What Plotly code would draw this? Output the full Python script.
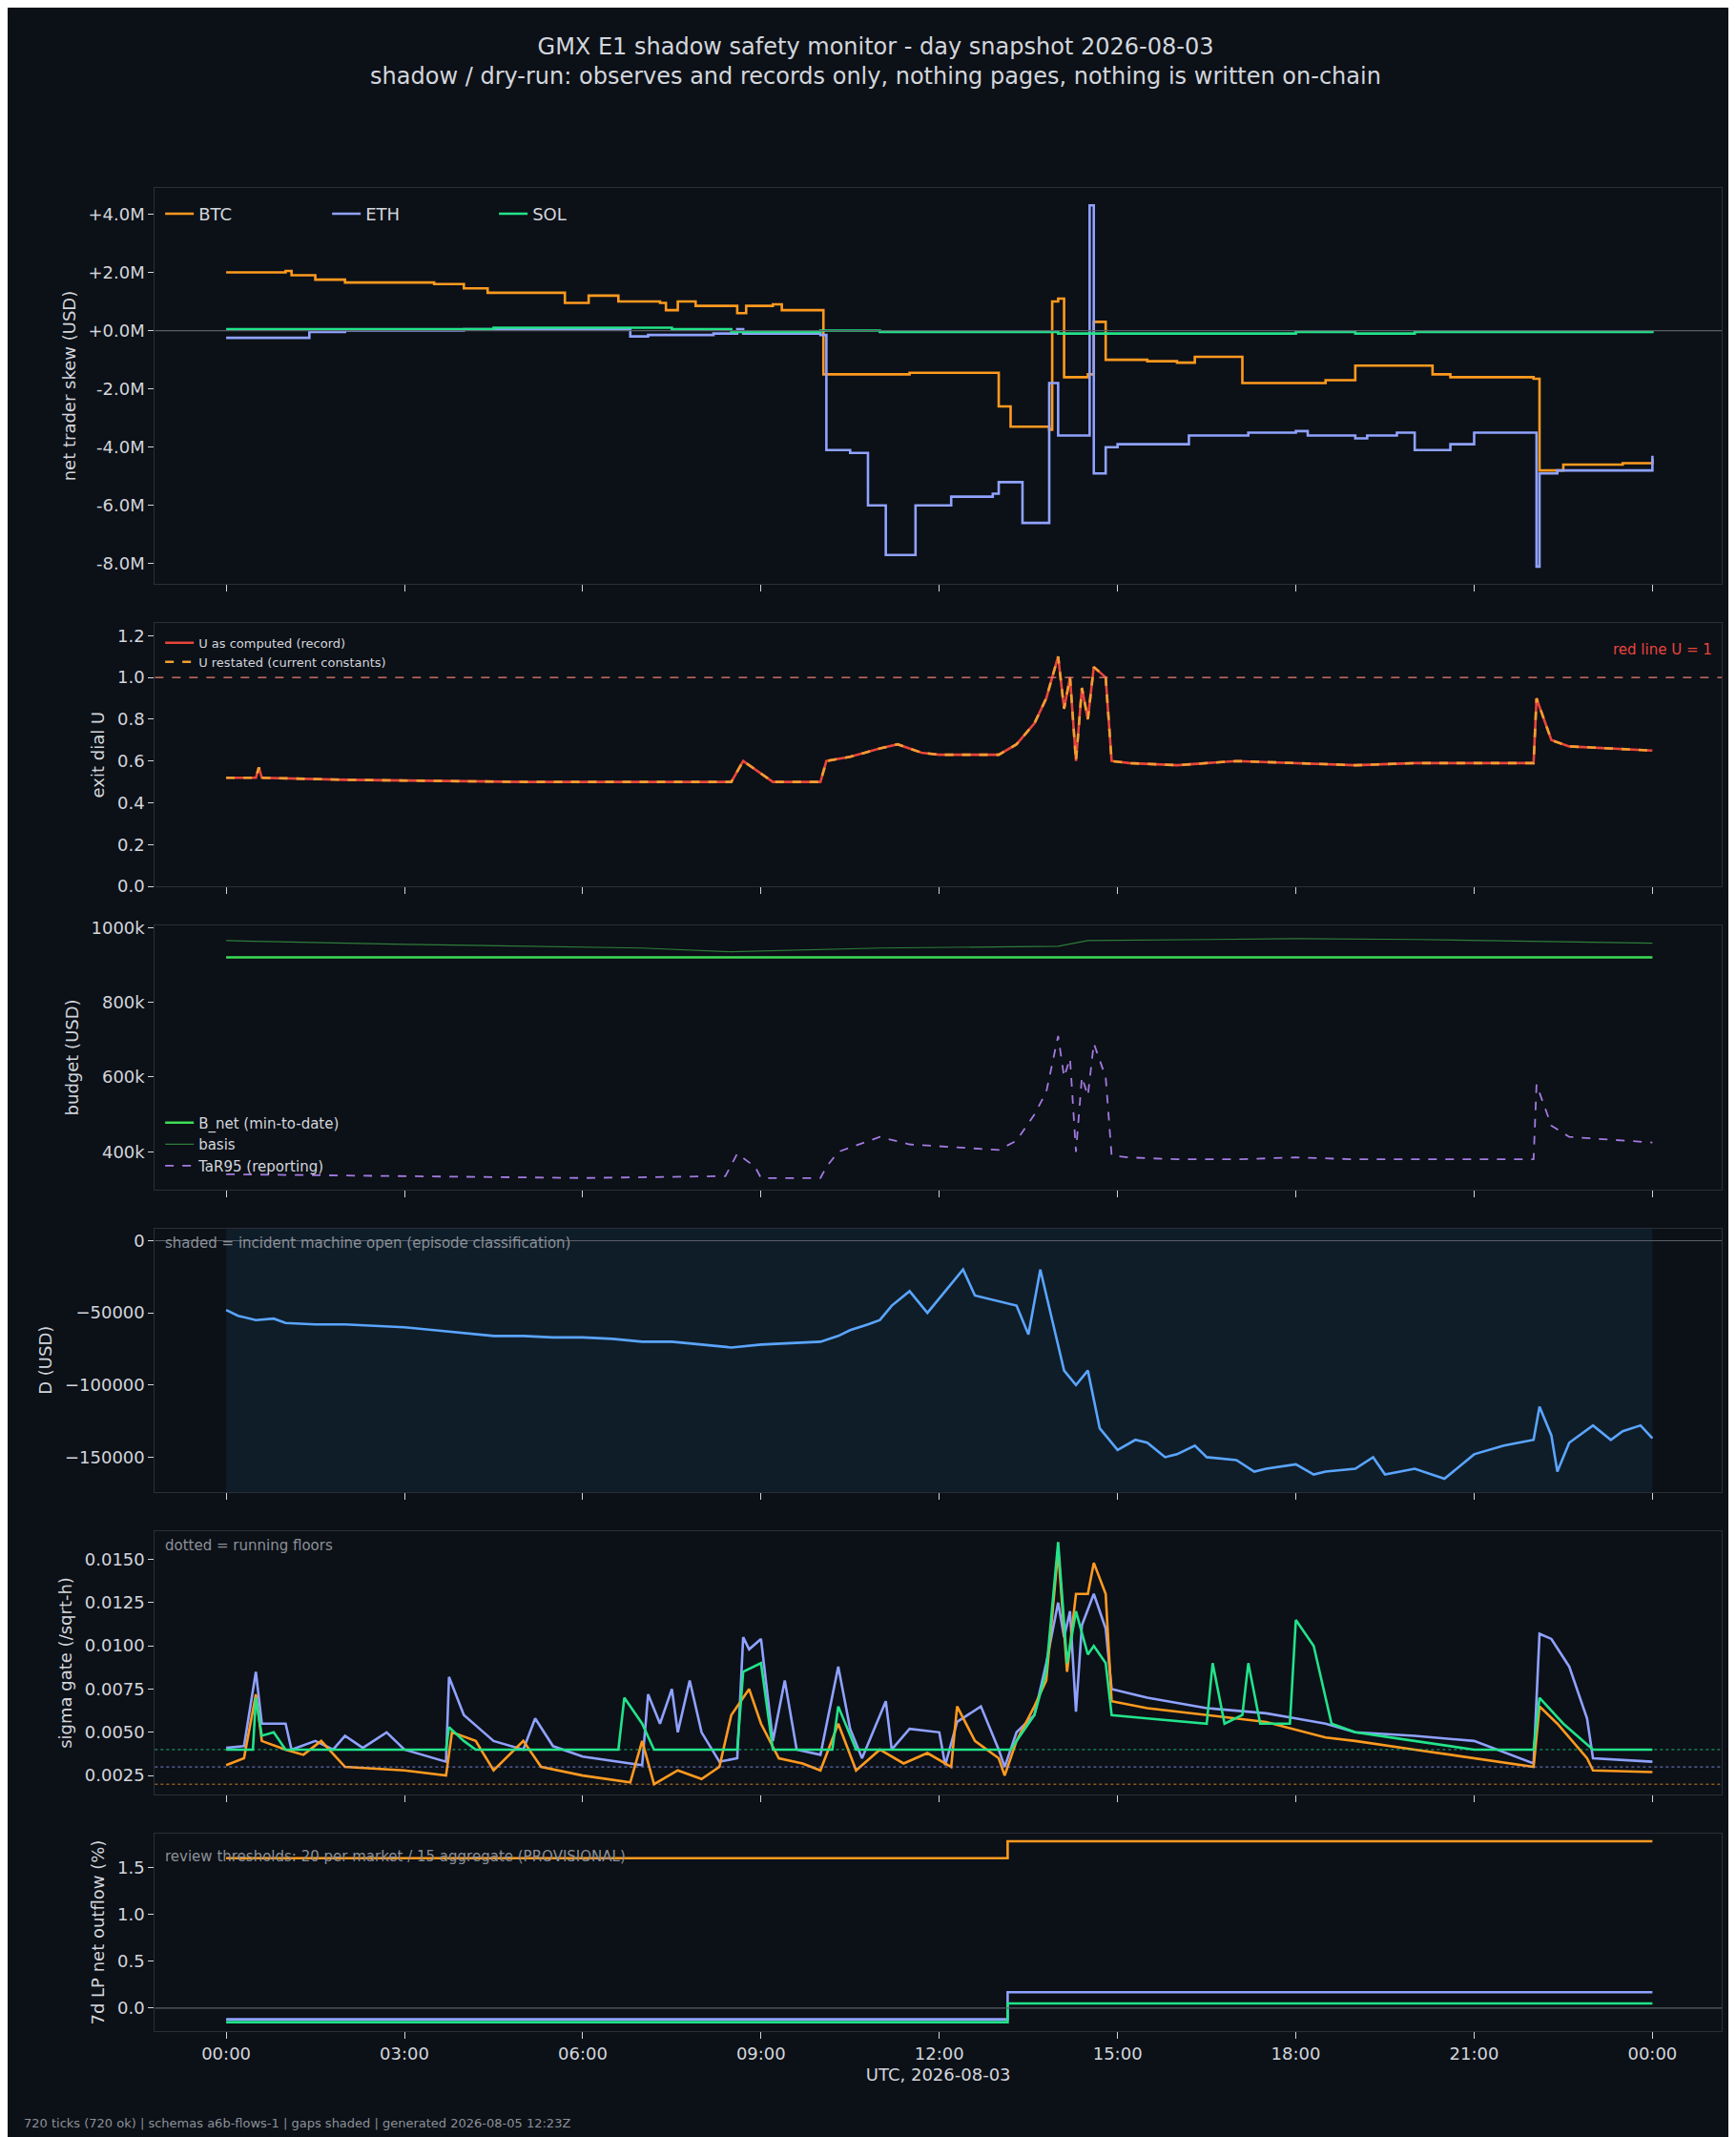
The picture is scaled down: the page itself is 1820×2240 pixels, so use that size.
import pandas as pd
import plotly.graph_objects as go

# ---- data (hours since 2026-08-03 00:00 UTC) ----
btc_skew_h = [0, 1.0, 1.1, 1.5, 2.0, 3.5, 4.0, 4.4, 5.6, 5.7, 6.1, 6.6, 7.3, 7.4, 7.6, 7.9, 8.5, 8.6, 8.75, 9.2, 9.35, 10.0, 10.05, 11.5,
              12.9, 13.0, 13.2, 13.85, 13.9, 14.0, 14.1, 14.5, 14.6, 14.8, 15.5, 16.0, 16.3, 17.0, 17.1, 18.5, 19.0, 20.0, 20.3, 20.6, 22.0, 22.1, 22.5, 23.5, 24.0]
btc_skew = [2.0, 2.05, 1.9, 1.75, 1.65, 1.6, 1.45, 1.3, 1.3, 0.95, 1.2, 1.0, 0.95, 0.7, 1.0, 0.85, 0.85, 0.6, 0.85, 0.9, 0.7, 0.7, -1.5, -1.45,
            -1.45, -2.6, -3.3, -3.4, 1.0, 1.1, -1.6, -1.5, 0.3, -1.0, -1.05, -1.1, -0.9, -0.9, -1.8, -1.7, -1.2, -1.2, -1.5, -1.6, -1.65, -4.8, -4.6, -4.55, -4.4]
eth_skew_h = [0, 1.2, 1.4, 2, 4, 6.6, 6.8, 7.1, 8.2, 8.6, 8.7, 10.0, 10.1, 10.5, 10.8, 11.1, 11.4, 11.6, 12.2, 12.9, 13.0, 13.4, 13.8, 13.85, 14.0,
              14.5, 14.53, 14.6, 14.8, 15.0, 16.0, 16.2, 17.0, 17.2, 18.0, 18.2, 19.0, 19.2, 19.7, 20.0, 20.6, 21.0, 22.0, 22.05, 22.1, 22.4, 23.0, 24.0]
eth_skew = [-0.25, -0.25, -0.05, 0, 0.05, 0.05, -0.2, -0.15, -0.1, 0.05, -0.1, -0.15, -4.1, -4.2, -6.0, -7.7, -7.7, -6.0, -5.7, -5.6, -5.2, -6.6, -6.6, -1.8, -3.6,
            -3.6, 4.3, -4.9, -4.0, -3.9, -3.9, -3.6, -3.6, -3.5, -3.45, -3.6, -3.7, -3.6, -3.5, -4.1, -3.9, -3.5, -3.5, -8.1, -4.9, -4.8, -4.8, -4.3]
sol_skew_h = [0, 2, 4.5, 7.5, 8.3, 8.5, 10, 11, 14, 18, 19, 20, 24]
sol_skew = [0.05, 0.05, 0.1, 0.05, 0.05, -0.05, 0.0, -0.05, -0.1, -0.05, -0.1, -0.05, 0.0]

u_h = [0, 0.5, 0.55, 0.6, 2, 5, 7, 8.5, 8.7, 9.0, 9.2, 10, 10.1, 10.5, 11, 11.3, 11.7, 12, 13, 13.3, 13.6, 13.8, 14.0, 14.1, 14.2, 14.3,
       14.4, 14.5, 14.6, 14.8, 14.9, 15.2, 16, 17, 18, 19, 20, 22.0, 22.05, 22.3, 22.6, 24]
u_val = [0.52, 0.52, 0.57, 0.52, 0.51, 0.5, 0.5, 0.5, 0.6, 0.54, 0.5, 0.5, 0.6, 0.62, 0.66, 0.68, 0.64, 0.63, 0.63, 0.68, 0.78, 0.9, 1.1, 0.85, 1.0, 0.6,
         0.95, 0.8, 1.05, 1.0, 0.6, 0.59, 0.58, 0.6, 0.59, 0.58, 0.59, 0.59, 0.9, 0.7, 0.67, 0.65]

bnet_h = [0, 24]
bnet = [920e3, 920e3]
basis_h = [0, 3, 7, 8.5, 11, 14, 14.5, 18, 20, 24]
basis = [965e3, 955e3, 945e3, 935e3, 945e3, 950e3, 965e3, 970e3, 968e3, 958e3]
tar_h = [0, 6, 8.4, 8.6, 8.9, 9.0, 10, 10.1, 10.3, 11, 11.5, 13, 13.3, 13.6, 13.8, 14.0, 14.1, 14.2, 14.3, 14.4, 14.5, 14.6, 14.8, 14.9,
         15.2, 16, 17, 18, 19, 22.0, 22.05, 22.3, 22.6, 24]
tar = [340e3, 330e3, 335e3, 395e3, 360e3, 330e3, 330e3, 360e3, 400e3, 440e3, 420e3, 405e3, 430e3, 500e3, 560e3, 710e3, 600e3, 650e3, 400e3, 600e3, 550e3, 690e3, 600e3, 390e3,
       385e3, 380e3, 380e3, 385e3, 380e3, 380e3, 580e3, 470e3, 440e3, 425e3]

d_h = [0, 0.2, 0.5, 0.8, 1, 1.5, 2, 2.5, 3, 3.5, 4, 4.5, 5, 5.5, 6, 6.5, 7, 7.5, 8, 8.5, 9, 9.5, 10, 10.3, 10.5, 10.8, 11, 11.2, 11.5, 11.8, 12, 12.2,
       12.4, 12.6, 13, 13.3, 13.5, 13.7, 13.9, 14.1, 14.3, 14.5, 14.7, 15, 15.3, 15.5, 15.8, 16, 16.3, 16.5, 17, 17.3, 17.5, 18, 18.3, 18.5, 19, 19.3,
       19.5, 20, 20.5, 21, 21.5, 22, 22.1, 22.3, 22.4, 22.6, 23, 23.3, 23.5, 23.8, 24]
d_val = [-48e3, -52e3, -55e3, -54e3, -57e3, -58e3, -58e3, -59e3, -60e3, -62e3, -64e3, -66e3, -66e3, -67e3, -67e3, -68e3, -70e3, -70e3, -72e3, -74e3, -72e3, -71e3, -70e3, -66e3, -62e3, -58e3, -55e3, -45e3,
         -35e3, -50e3, -40e3, -30e3, -20e3, -38e3, -42e3, -45e3, -65e3, -20e3, -55e3, -90e3, -100e3, -90e3, -130e3, -145e3, -138e3, -140e3, -150e3, -148e3, -142e3, -150e3,
         -152e3, -160e3, -158e3, -155e3, -162e3, -160e3, -158e3, -150e3, -162e3, -158e3, -165e3, -148e3, -142e3, -138e3, -115e3, -135e3, -160e3, -140e3, -128e3, -138e3, -132e3, -128e3, -137e3]

eth_sig_h = [0, 0.3, 0.5, 0.6, 1, 1.1, 1.5, 1.8, 2, 2.3, 2.7, 3, 3.7, 3.75, 4, 4.5, 5, 5.2, 5.5, 6, 7, 7.1, 7.3, 7.5, 7.6, 7.8, 8.0, 8.3, 8.6, 8.7,
             8.8, 9.0, 9.2, 9.4, 9.6, 10.0, 10.3, 10.5, 10.7, 11.1, 11.2, 11.5, 12, 12.1, 12.3, 12.7, 13.0, 13.1, 13.3, 13.6, 13.8, 14.0, 14.1, 14.2,
             14.3, 14.4, 14.6, 14.8, 14.9, 15.5, 16.5, 17.5, 18, 18.5, 19, 20, 21, 22, 22.1, 22.3, 22.6, 22.9, 23, 24]
eth_sig = [0.0041, 0.0042, 0.0085, 0.0055, 0.0055, 0.0040, 0.0045, 0.0040, 0.0048, 0.0041, 0.0050, 0.0040, 0.0033, 0.0082, 0.0060, 0.0045, 0.0040, 0.0058,
           0.0042, 0.0036, 0.0031, 0.0072, 0.0055, 0.0075, 0.0050, 0.0080, 0.0050, 0.0033, 0.0035, 0.0105, 0.0098, 0.0104, 0.0045, 0.0080, 0.0040, 0.0037,
           0.0088, 0.0052, 0.0035, 0.0068, 0.0040, 0.0052, 0.0050, 0.0031, 0.0056, 0.0065, 0.0040, 0.0030, 0.0050, 0.0060, 0.0090, 0.0125, 0.0105, 0.0120,
           0.0062, 0.0112, 0.0130, 0.0110, 0.0075, 0.0070, 0.0064, 0.0061, 0.0058, 0.0055, 0.0050, 0.0048, 0.0045, 0.0032, 0.0107, 0.0104, 0.0088, 0.0058, 0.0035, 0.0033]
btc_sig_h = [0, 0.3, 0.5, 0.6, 1.0, 1.3, 1.6, 2.0, 3.0, 3.7, 3.8, 4.2, 4.5, 5.0, 5.3, 6.0, 6.8, 7.0, 7.2, 7.6, 8.0, 8.3, 8.5, 8.8, 9.0, 9.3, 9.7,
             10.0, 10.3, 10.6, 11, 11.4, 11.8, 12.2, 12.3, 12.6, 13, 13.1, 13.3, 13.6, 13.8, 14.0, 14.15, 14.3, 14.5, 14.6, 14.8, 14.9, 15.5, 16.5,
             17.5, 18.5, 19, 20, 21, 22, 22.1, 22.4, 22.9, 23, 24]
btc_sig = [0.0031, 0.0035, 0.0072, 0.0045, 0.0040, 0.0037, 0.0045, 0.0030, 0.0028, 0.0025, 0.0050, 0.0045, 0.0028, 0.0045, 0.0030, 0.0025, 0.0021, 0.0045,
           0.0020, 0.0028, 0.0023, 0.0030, 0.0060, 0.0075, 0.0055, 0.0035, 0.0032, 0.0028, 0.0055, 0.0028, 0.0040, 0.0032, 0.0038, 0.0030, 0.0065, 0.0045,
           0.0035, 0.0025, 0.0045, 0.0065, 0.0080, 0.0155, 0.0085, 0.0130, 0.0130, 0.0148, 0.0130, 0.0068, 0.0064, 0.0060, 0.0056, 0.0047, 0.0045, 0.0040,
           0.0035, 0.0030, 0.0065, 0.0055, 0.0035, 0.0028, 0.0027]
sol_sig_h = [0, 0.45, 0.5, 0.6, 0.8, 1.0, 1.1, 3.7, 3.75, 4, 4.2, 6.6, 6.7, 7.0, 7.2, 8.6, 8.7, 9.0, 9.2, 10.2, 10.3, 10.6, 13.2, 13.3, 13.6, 13.8, 14.0,
             14.15, 14.3, 14.5, 14.6, 14.8, 14.9, 15.5, 16.5, 16.6, 16.8, 17.1, 17.2, 17.4, 17.9, 18.0, 18.3, 18.6, 19, 20, 21, 22.0, 22.1, 22.5, 23, 24]
sol_sig = [0.0040, 0.0040, 0.0070, 0.0048, 0.0050, 0.0040, 0.0040, 0.0040, 0.0053, 0.0045, 0.0040, 0.0040, 0.0070, 0.0055, 0.0040, 0.0040, 0.0085, 0.0090,
           0.0040, 0.0040, 0.0065, 0.0040, 0.0040, 0.0045, 0.0060, 0.0085, 0.0160, 0.0090, 0.0120, 0.0095, 0.0100, 0.0090, 0.0060, 0.0058, 0.0055, 0.0090,
           0.0055, 0.0060, 0.0090, 0.0055, 0.0055, 0.0115, 0.0100, 0.0055, 0.0050, 0.0045, 0.0040, 0.0040, 0.0070, 0.0055, 0.0040, 0.0040]
sig_floors = {"SOL": 0.0040, "ETH": 0.0030, "BTC": 0.0020}

lp_h = [0, 13.1, 13.15, 24]
lp_btc = [1.6, 1.6, 1.78, 1.78]
lp_eth = [-0.12, -0.12, 0.17, 0.17]
lp_sol = [-0.15, -0.15, 0.05, 0.05]

# ---- style ----
BG = "#0c1017"
TXT = "#d2d6dc"
MUTED = "#8b9098"
FRAME = "#2a2f38"
C_BTC, C_ETH, C_SOL = "#ff9a1f", "#8fa2ff", "#22e38a"
day0 = pd.Timestamp("2026-08-03")


def t(hours):
    return [day0 + pd.Timedelta(hours=h) for h in hours]


fig = go.Figure()
doms = [(0.732, 0.919), (0.5893, 0.7136), (0.4464, 0.5708), (0.3036, 0.4279), (0.1607, 0.2851), (0.0491, 0.1422)]


def add(n, hx, y, name, color, width=2.6, dash=None, shape="linear", legend=False):
    ax = "" if n == 1 else str(n)
    fig.add_trace(go.Scatter(x=t(hx), y=y, name=name, mode="lines", line=dict(color=color, width=width, dash=dash, shape=shape),
                             xaxis="x" + ax, yaxis="y" + ax, showlegend=legend, legend="legend" if n == 1 else "legend%d" % n))


# panel 1
add(1, btc_skew_h, [v * 1e6 for v in btc_skew], "BTC", C_BTC, shape="hv", legend=True)
add(1, eth_skew_h, [v * 1e6 for v in eth_skew], "ETH", C_ETH, shape="hv", legend=True)
add(1, sol_skew_h, [v * 1e6 for v in sol_skew], "SOL", C_SOL, shape="hv", legend=True)
# panel 2
add(2, u_h, u_val, "U as computed (record)", "#e8453c", legend=True)
add(2, u_h, u_val, "U restated (current constants)", "#f0a030", dash="dash", legend=True)
# panel 3
add(3, bnet_h, bnet, "B_net (min-to-date)", "#3ddc55", legend=True)
add(3, basis_h, basis, "basis", "#2e7d3a", width=1.2, legend=True)
add(3, tar_h, tar, "TaR95 (reporting)", "#a27be0", width=1.8, dash="dash", legend=True)
# panel 4
add(4, d_h, d_val, "D", "#5aa5ff")
# panel 5
add(5, eth_sig_h, eth_sig, "ETH", C_ETH)
add(5, btc_sig_h, btc_sig, "BTC", C_BTC)
add(5, sol_sig_h, sol_sig, "SOL", C_SOL)
# panel 6
add(6, lp_h, lp_btc, "BTC", C_BTC, shape="hv")
add(6, lp_h, lp_eth, "ETH", C_ETH, shape="hv")
add(6, lp_h, lp_sol, "SOL", C_SOL, shape="hv")

xr = [day0 - pd.Timedelta(minutes=72), day0 + pd.Timedelta(hours=25, minutes=10)]
ticks = t([0, 3, 6, 9, 12, 15, 18, 21, 24])
yspec = [
    dict(range=[-8.7e6, 4.9e6], tickvals=[4e6, 2e6, 0, -2e6, -4e6, -6e6, -8e6],
         ticktext=["+4.0M", "+2.0M", "+0.0M", "-2.0M", "-4.0M", "-6.0M", "-8.0M"], title="net trader skew (USD)"),
    dict(range=[0, 1.26], tickvals=[0, 0.2, 0.4, 0.6, 0.8, 1.0, 1.2], tickformat=".1f", title="exit dial U"),
    dict(range=[300e3, 1005e3], tickvals=[400e3, 600e3, 800e3, 1000e3],
         ticktext=["400k", "600k", "800k", "1000k"], title="budget (USD)"),
    dict(range=[-174e3, 8.5e3], tickvals=[0, -50000, -100000, -150000],
         ticktext=["0", "\u221250000", "\u2212100000", "\u2212150000"], title="D (USD)"),
    dict(range=[0.0014, 0.01664], tickvals=[0.0025, 0.005, 0.0075, 0.01, 0.0125, 0.015], tickformat=".4f", title="sigma gate (/sqrt-h)"),
    dict(range=[-0.245, 1.86], tickvals=[0, 0.5, 1.0, 1.5], tickformat=".1f", title="7d LP net outflow (%)"),
]
layout = {}
for i, (d, ys) in enumerate(zip(doms, yspec), start=1):
    k = "" if i == 1 else str(i)
    layout["xaxis" + k] = dict(domain=[0.0848, 0.9874], range=xr, tickvals=ticks, anchor="y" + k,
                               ticktext=["00:00", "03:00", "06:00", "09:00", "12:00", "15:00", "18:00", "21:00", "00:00"],
                               showticklabels=(i == 6), ticks="outside", ticklen=7, tickcolor=TXT,
                               showgrid=False, zeroline=False, showline=True, linecolor=FRAME, mirror=True)
    ttl = ys.pop("title")
    layout["yaxis" + k] = dict(domain=list(d), anchor="x" + k, ticks="outside", ticklen=6, tickcolor=TXT,
                               showgrid=False, zeroline=False, showline=True, linecolor=FRAME, mirror=True,
                               title=dict(text=ttl, font=dict(size=18, color=TXT), standoff=8), **ys)
layout["xaxis6"]["title"] = dict(text="UTC, 2026-08-03", font=dict(size=18, color=TXT), standoff=6)

fig.update_layout(**layout)

shapes = []
for k, y0 in (("", 0), ("4", 0), ("6", 0)):
    shapes.append(dict(type="line", xref="x%s domain" % k if k else "x domain", yref="y" + k, x0=0, x1=1, y0=y0, y1=y0,
                       line=dict(color="#5a5f68", width=1.2)))
shapes.append(dict(type="line", xref="x2 domain", yref="y2", x0=0, x1=1, y0=1, y1=1, line=dict(color="#f08070", width=1.3, dash="dash")))
shapes.append(dict(type="rect", xref="x4", yref="y4 domain", x0=t([0])[0], x1=t([24])[0], y0=0, y1=1,
                   fillcolor="#10202e", opacity=0.8, line=dict(width=0), layer="below"))
for name, col in (("SOL", C_SOL), ("ETH", C_ETH), ("BTC", C_BTC)):
    v = sig_floors[name]
    shapes.append(dict(type="line", xref="x5 domain", yref="y5", x0=0, x1=1, y0=v, y1=v, line=dict(color=col, width=1, dash="dot"), opacity=0.8))

annos = [
    dict(text="red line U = 1", xref="x2 domain", yref="y2 domain", x=0.995, y=0.9, xanchor="right", yanchor="middle", showarrow=False,
         font=dict(color="#e8453c", size=15)),
    dict(text="shaded = incident machine open (episode classification)", xref="x4 domain", yref="y4 domain", x=0.005, y=0.985,
         xanchor="left", yanchor="top", showarrow=False, font=dict(color=MUTED, size=15)),
    dict(text="dotted = running floors", xref="x5 domain", yref="y5 domain", x=0.005, y=0.985,
         xanchor="left", yanchor="top", showarrow=False, font=dict(color=MUTED, size=15)),
    dict(text="review thresholds: 20 per market / 15 aggregate (PROVISIONAL)", xref="x6 domain", yref="y6 domain", x=0.005, y=0.94,
         xanchor="left", yanchor="top", showarrow=False, font=dict(color=MUTED, size=15)),
    dict(text="720 ticks (720 ok) | schemas a6b-flows-1 | gaps shaded | generated 2026-08-05 12:23Z", xref="paper", yref="paper",
         x=0.008, y=0.0015, xanchor="left", yanchor="bottom", showarrow=False, font=dict(color=MUTED, size=13)),
]

fig.update_layout(
    width=1820, height=2240, paper_bgcolor=BG, plot_bgcolor=BG,
    margin=dict(l=0, r=0, t=0, b=0), showlegend=True,
    font=dict(family="DejaVu Sans", color=TXT, size=18),
    title=dict(text="GMX E1 shadow safety monitor - day snapshot 2026-08-03<br>shadow / dry-run: observes and records only, nothing pages, nothing is written on-chain",
               x=0.5, xanchor="center", y=0.978, yanchor="top", font=dict(size=24, color=TXT)),
    shapes=shapes, annotations=annos,
    legend=dict(x=0.088, y=0.915, xanchor="left", yanchor="top", orientation="h", bgcolor="rgba(0,0,0,0)", font=dict(size=18),
                entrywidth=130, visible=True),
    legend2=dict(x=0.088, y=0.711, xanchor="left", yanchor="top", bgcolor="rgba(0,0,0,0)", font=dict(size=13), tracegroupgap=0, visible=True),
    legend3=dict(x=0.088, y=0.4500, xanchor="left", yanchor="bottom", bgcolor="rgba(0,0,0,0)", font=dict(size=15), tracegroupgap=0, visible=True),
)
fig.write_html("out.html")
